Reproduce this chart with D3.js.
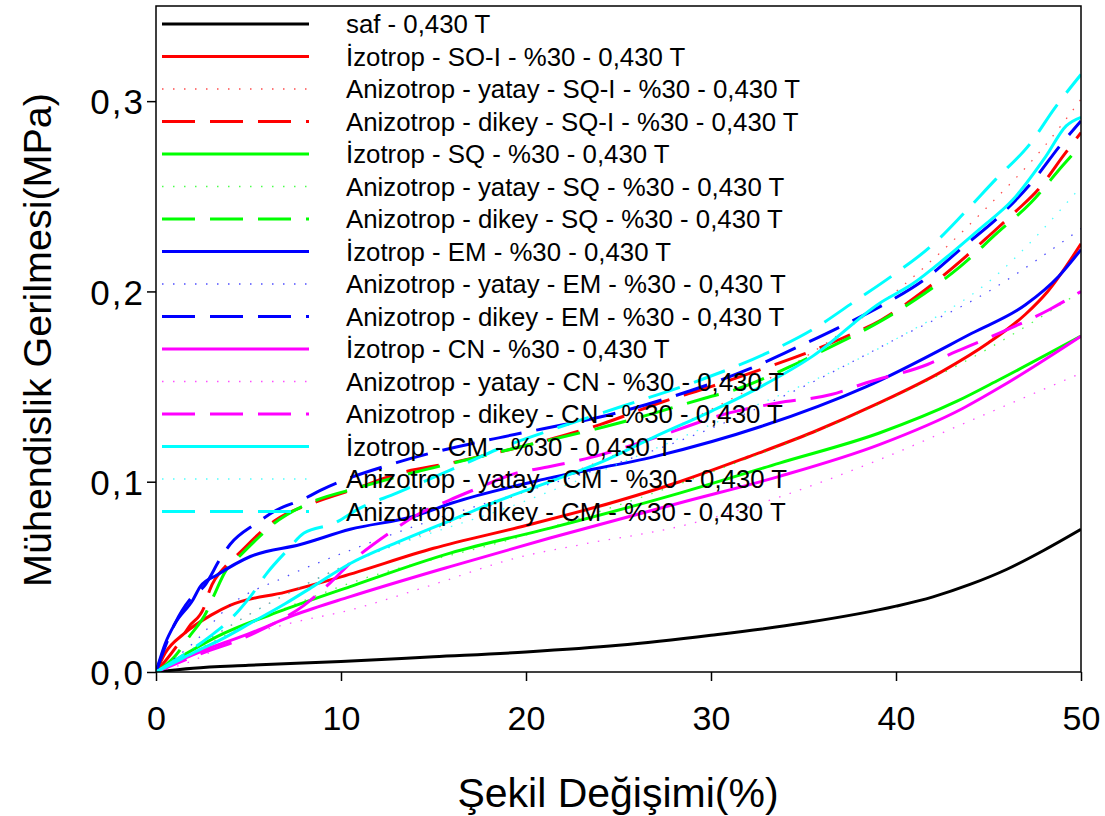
<!DOCTYPE html>
<html><head><meta charset="utf-8">
<script src="https://cdn.jsdelivr.net/npm/d3@7"></script>
<style>body{margin:0;background:#fff}svg{display:block}text{font-family:"Liberation Sans",Arial,sans-serif;fill:#000}</style>
</head><body><svg id="c" width="1105" height="816"></svg>
<script>
// ---- data (strain %, stress MPa) ----
const xTicks = [0,10,20,30,40,50];
const yTicks = [0,0.1,0.2,0.3];
const yTickLabels = ["0,0","0,1","0,2","0,3"];
const seriesNames = [
 "saf - 0,430 T","İzotrop - SO-I - %30 - 0,430 T","Anizotrop - yatay - SQ-I - %30 - 0,430 T",
 "Anizotrop - dikey - SQ-I - %30 - 0,430 T","İzotrop - SQ - %30 - 0,430 T","Anizotrop - yatay - SQ - %30 - 0,430 T",
 "Anizotrop - dikey - SQ - %30 - 0,430 T","İzotrop - EM - %30 - 0,430 T","Anizotrop - yatay - EM - %30 - 0,430 T",
 "Anizotrop - dikey - EM - %30 - 0,430 T","İzotrop - CN - %30 - 0,430 T","Anizotrop - yatay - CN - %30 - 0,430 T",
 "Anizotrop - dikey - CN - %30 - 0,430 T","İzotrop - CM - %30 - 0,430 T","Anizotrop - yatay - CM - %30 - 0,430 T",
 "Anizotrop - dikey - CM - %30 - 0,430 T"];
const seriesColors = ["#000000","#ff0000","#ff0000","#ff0000","#00ff00","#00ff00","#00ff00","#0000ff","#0000ff","#0000ff","#ff00ff","#ff00ff","#ff00ff","#00ffff","#00ffff","#00ffff"];
const seriesStyles = ["solid","solid","dot","dash","solid","dot","dash","solid","dot","dash","solid","dot","dash","solid","dot","dash"];

const saf = [[0,0],[2,0.002],[5,0.0035],[10,0.0055],[15,0.008],[20,0.0105],[25,0.014],[30,0.0193],[35,0.0257],[40,0.0346],[42,0.0395],[44,0.046],[46,0.054],[48,0.064],[50,0.075]];
const isoSOI = [[0,0],[0.5,0.01],[1.5,0.02],[3,0.03],[4,0.035],[7,0.042],[10,0.05],[15,0.065],[20,0.077],[25,0.09],[28.3,0.1],[32,0.113],[35.5,0.126],[39,0.141],[42.5,0.158],[45,0.173],[47,0.188],[48.2,0.2],[50,0.225]];
const yatSQI = [[0,0],[2,0.012],[5,0.03],[10,0.055],[15,0.075],[20,0.095],[25,0.115],[30,0.138],[35,0.165],[40,0.2],[45,0.245],[48,0.276],[50,0.301]];
const dikSQI = [[0,0],[1,0.012],[1.8,0.024],[2.6,0.034],[2.9,0.043],[3.8,0.056],[4.5,0.0625],[5.8,0.0747],[6.5,0.08],[8.5,0.0888],[11,0.097],[13,0.104],[16,0.11],[20,0.119],[24,0.13],[27.4,0.142],[30,0.15],[32.7,0.159],[35,0.167],[37,0.175],[39.2,0.185],[41.6,0.201],[43.8,0.2186],[45,0.229],[46.5,0.2423],[47.7,0.2537],[49.1,0.272],[50,0.2835]];
const isoSQ = [[0,0],[1,0.006],[3.3,0.0186],[6.9,0.0326],[10.5,0.0449],[15.9,0.0625],[21.3,0.0756],[28.3,0.094],[33.7,0.1098],[39.1,0.1256],[43.3,0.1423],[45.6,0.1537],[50,0.1765]];
const yatSQ = [[0,0],[5,0.025],[10,0.045],[20,0.072],[30,0.105],[40,0.145],[45,0.17],[50,0.2]];
const dikSQ = [[0,0],[1,0.008],[1.8,0.0186],[2.7,0.031],[3.1,0.0396],[3.8,0.0537],[4.5,0.0607],[5.6,0.0712],[6.3,0.0774],[8.3,0.0888],[11,0.097],[14,0.105],[17,0.112],[20,0.119],[24.3,0.129],[26.2,0.134],[29.7,0.144],[31.2,0.148],[34.6,0.162],[36.5,0.171],[39.1,0.184],[41.1,0.196],[43.5,0.2133],[45.5,0.231],[47.3,0.2467],[49,0.266],[50,0.277]];
const isoEM = [[0,0],[0.5,0.015],[1,0.025],[2,0.038],[2.4,0.045],[3.3,0.051],[5.1,0.0607],[7.8,0.067],[10.5,0.075],[14,0.082],[16,0.0888],[21.3,0.102],[27,0.1133],[32.7,0.129],[38.4,0.15],[44.1,0.178],[47,0.193],[48.8,0.208],[50,0.222]];
const yatEM = [[0,0],[2,0.015],[4,0.035],[7,0.05],[10.5,0.064],[15,0.08],[20,0.095],[25,0.11],[30,0.128],[35,0.15],[40,0.175],[45,0.2],[50,0.233]];
const dikEM = [[0,0],[1,0.025],[2,0.04],[2.6,0.045],[3.5,0.06],[4,0.067],[5.4,0.078],[6.5,0.085],[8,0.091],[9,0.096],[13,0.11],[18,0.122],[21,0.128],[24,0.134],[28,0.145],[32,0.159],[34.4,0.1695],[36.9,0.181],[39.5,0.194],[41.5,0.206],[43.7,0.224],[45.6,0.2396],[47.4,0.258],[48.9,0.277],[50,0.2896]];
const isoCN = [[0,0],[1.5,0.007],[3,0.013],[5,0.02],[7.5,0.03],[10.5,0.0396],[15.9,0.0554],[21.3,0.0704],[28.3,0.0888],[33.7,0.1028],[39.1,0.1195],[43.6,0.1385],[45.6,0.1495],[50,0.1765]];
const yatCN = [[0,0],[2,0.006],[4.2,0.0168],[7,0.025],[10.5,0.0326],[15,0.046],[19.5,0.06],[23,0.067],[28.3,0.0765],[34,0.093],[39.1,0.1116],[44,0.132],[50,0.157]];
const dikCN = [[0,0],[2,0.008],[4.9,0.0186],[6.4,0.0256],[8,0.035],[9.4,0.0467],[10.7,0.059],[12.6,0.073],[14,0.082],[15.9,0.0905],[17.2,0.0958],[19.3,0.104],[21.3,0.108],[23.2,0.112],[26,0.12],[28.7,0.129],[30.2,0.134],[33.6,0.1414],[36.5,0.1458],[38.4,0.152],[41.7,0.1616],[43.3,0.1686],[45.8,0.179],[48.3,0.1905],[50,0.2]];
const isoCM = [[0,0],[1,0.005],[2,0.01],[3.5,0.017],[5.1,0.0256],[7,0.036],[8.5,0.045],[10.5,0.057],[13,0.068],[16,0.08],[18.5,0.09],[21.3,0.1],[24,0.11],[27,0.1238],[30,0.137],[32.7,0.15],[35.5,0.166],[39.1,0.1937],[40.9,0.204],[42.7,0.2177],[44.5,0.2326],[46.3,0.248],[48.1,0.271],[49.2,0.287],[50,0.2915]];
const yatCM = [[0,0],[5,0.03],[10,0.055],[20,0.09],[30,0.13],[40,0.175],[45,0.205],[50,0.255]];
const dikCM = [[0,0],[1.5,0.009],[2.9,0.0186],[3.8,0.0256],[4.5,0.0326],[5.1,0.0396],[6,0.052],[7.1,0.064],[8,0.073],[9.6,0.078],[11,0.086],[13,0.094],[17.2,0.1116],[18.4,0.1168],[21.3,0.127],[25,0.139],[29.5,0.1537],[33.1,0.168],[35.5,0.18],[37.8,0.195],[39.9,0.209],[42,0.2247],[43.7,0.2414],[45.4,0.259],[47.2,0.277],[48.6,0.2966],[50,0.314]];
const seriesData = [saf,isoSOI,yatSQI,dikSQI,isoSQ,yatSQ,dikSQ,isoEM,yatEM,dikEM,isoCN,yatCN,dikCN,isoCM,yatCM,dikCM];

// ---- layout ----
const L=156, R=1081, T=6, B=672;
const svg = d3.select("#c");
const x = d3.scaleLinear().domain([0,50]).range([L,R]);
const y = d3.scaleLinear().domain([0,0.35]).range([B,T]);

svg.append("clipPath").attr("id","clip").append("rect").attr("x",L).attr("y",T).attr("width",R-L).attr("height",B-T);

const dash = {solid:null, dash:"33,15", dot:"1.5,9.5"};
const line = d3.line().x(d=>x(d[0])).y(d=>y(d[1])).curve(d3.curveMonotoneX);
const g = svg.append("g").attr("clip-path","url(#clip)");
seriesData.forEach((d,i)=>{
  const st = seriesStyles[i];
  g.append("path").datum(d).attr("d",line).attr("fill","none")
   .attr("stroke",seriesColors[i])
   .attr("stroke-width", st==="dot"?1.3:3)
   .attr("stroke-opacity", st==="dot"?0.7:1)
   .attr("stroke-dasharray", dash[st]);
});

// frame
svg.append("rect").attr("x",L).attr("y",T).attr("width",R-L).attr("height",B-T)
  .attr("fill","none").attr("stroke","#000").attr("stroke-width",1.5);

// axes
const xAxis = svg.append("g").attr("transform",`translate(0,${B})`)
  .call(d3.axisBottom(x).tickValues(xTicks).tickSize(9).tickSizeOuter(0).tickFormat(d3.format("d")));
xAxis.select(".domain").remove();
xAxis.selectAll("line").attr("stroke","#000").attr("stroke-width",1.5);
xAxis.selectAll("text").attr("font-size",34).attr("dy",0).attr("y",58).attr("fill","#000");

const yAxis = svg.append("g").attr("transform",`translate(${L},0)`)
  .call(d3.axisLeft(y).tickValues(yTicks).tickSize(9).tickSizeOuter(0).tickFormat((d,i)=>yTickLabels[i]));
yAxis.select(".domain").remove();
yAxis.selectAll("line").attr("stroke","#000").attr("stroke-width",1.5);
yAxis.selectAll("text").attr("font-size",35).attr("x",-11).attr("dy","0.36em").attr("letter-spacing",2).attr("fill","#000");

svg.append("text").attr("x",618).attr("y",807).attr("text-anchor","middle").attr("font-size",41).text("Şekil Değişimi(%)");
svg.append("text").attr("transform","translate(51,340) rotate(-90)").attr("text-anchor","middle").attr("font-size",39.5).text("Mühendislik Gerilmesi(MPa)");

// legend
const lg = svg.append("g");
seriesNames.forEach((n,i)=>{
  const yy = 24 + i*32.5;
  const st = seriesStyles[i];
  lg.append("line").attr("x1",162).attr("x2",309).attr("y1",yy).attr("y2",yy)
    .attr("stroke",seriesColors[i]).attr("stroke-width", st==="dot"?1.3:3)
    .attr("stroke-opacity", st==="dot"?0.7:1).attr("stroke-dasharray",dash[st]);
  lg.append("text").attr("x",346).attr("y",yy).attr("dy","0.36em").attr("font-size",25.8).text(n);
});
</script></body></html>
